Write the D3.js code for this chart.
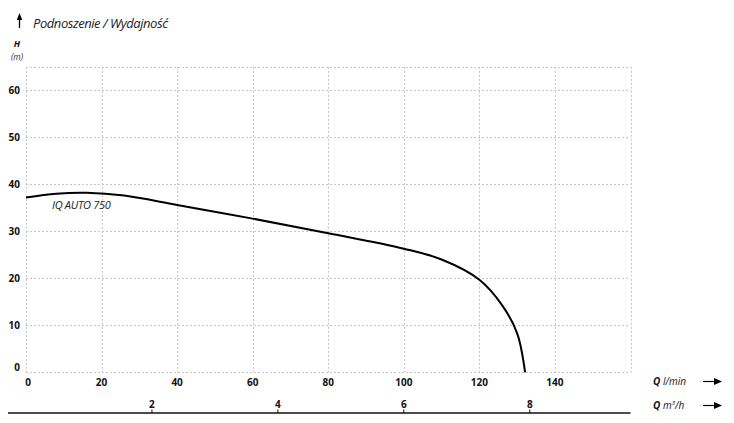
<!DOCTYPE html>
<html><head><meta charset="utf-8">
<script src="https://cdn.jsdelivr.net/npm/d3@7"></script>
<style>body{margin:0;background:#fff}svg{display:block}</style>
</head><body>
<svg id="c" width="734" height="423"></svg>
<script>
const flowLmin = [0, 8, 16, 26, 40, 60, 80, 100, 110, 120, 126, 130, 132.1];
const headM    = [37.2, 38, 38.2, 37.6, 35.6, 32.7, 29.6, 26.3, 24, 19.7, 14.3, 8.3, 0];
const xTicks = [0, 20, 40, 60, 80, 100, 120, 140];
const xGrid = [0, 20, 40, 60, 80, 100, 120, 140, 160];
const yTicks = [0, 10, 20, 30, 40, 50, 60];
const yGrid = [0, 10, 20, 30, 40, 50, 60, 65];
const m3hTicks = [2, 4, 6, 8];
const seriesName = "IQ AUTO 750";

const svg = d3.select("#c");
const font = "'Open Sans', sans-serif";
const x = d3.scaleLinear().domain([0, 160]).range([26, 630.5]);
const y = d3.scaleLinear().domain([0, 65]).range([372.3, 66.8]);
const xm3 = d3.scaleLinear().domain([0, 9.6]).range([x(0), x(160)]);

// grid
const g = svg.append("g").attr("stroke", "#c8c8c8").attr("stroke-width", 1).attr("stroke-dasharray", "2,2");
g.selectAll("line.v").data(xGrid).join("line")
  .attr("x1", d => Math.round(x(d)) + 0.5).attr("x2", d => Math.round(x(d)) + 0.5)
  .attr("y1", y(65)).attr("y2", y(0));
g.selectAll("line.h").data(yGrid).join("line")
  .attr("y1", d => Math.round(y(d)) + 0.5).attr("y2", d => Math.round(y(d)) + 0.5)
  .attr("x1", x(0)).attr("x2", x(160));

// y tick labels
svg.append("g").selectAll("text").data(yTicks).join("text")
  .attr("x", 20).attr("y", d => y(d) + (d === 0 ? -1 : 3.5))
  .attr("text-anchor", "end").attr("font-family", font).attr("font-weight", "bold")
  .attr("font-size", 10).attr("fill", "#111").text(d => d);

// x tick labels
svg.append("g").selectAll("text").data(xTicks).join("text")
  .attr("x", d => x(d) + (d === 0 ? 2 : 0)).attr("y", 386)
  .attr("text-anchor", "middle").attr("font-family", font).attr("font-weight", "bold")
  .attr("font-size", 10).attr("fill", "#111").text(d => d);

// second axis m3/h
svg.append("line").attr("x1", 8).attr("x2", 630.5).attr("y1", 413).attr("y2", 413)
  .attr("stroke", "#111").attr("stroke-width", 1.3);
const a2 = svg.append("g");
a2.selectAll("line").data(m3hTicks).join("line")
  .attr("x1", d => xm3(d)).attr("x2", d => xm3(d)).attr("y1", 409.5).attr("y2", 413)
  .attr("stroke", "#111").attr("stroke-width", 1);
a2.selectAll("text").data(m3hTicks).join("text")
  .attr("x", d => xm3(d)).attr("y", 408)
  .attr("text-anchor", "middle").attr("font-family", font).attr("font-weight", "bold")
  .attr("font-size", 10).attr("fill", "#111").text(d => d);

// curve
const pts = flowLmin.map((q, i) => [q, headM[i]]);
svg.append("path").datum(pts)
  .attr("d", d3.line().x(d => x(d[0])).y(d => y(d[1])).curve(d3.curveCatmullRom.alpha(0.5)))
  .attr("fill", "none").attr("stroke", "#000").attr("stroke-width", 2);

svg.append("text").attr("x", 52).attr("y", 209).attr("font-family", font)
  .attr("font-style", "italic").attr("font-size", 11).attr("fill", "#222").attr("letter-spacing", -0.3)
  .text(seriesName);

// title
svg.append("line").attr("x1", 19.5).attr("x2", 19.5).attr("y1", 28).attr("y2", 18).attr("stroke", "#000").attr("stroke-width", 1.3);
svg.append("path").attr("d", "M19.5,13 L16.8,20 L22.2,20 Z").attr("fill", "#000");
svg.append("text").attr("x", 33).attr("y", 28).attr("font-family", font).attr("font-style", "italic")
  .attr("font-size", 13).attr("letter-spacing", -0.45).attr("fill", "#222").text("Podnoszenie / Wydajność");
svg.append("text").attr("x", 17).attr("y", 47).attr("text-anchor", "middle").attr("font-family", font)
  .attr("font-style", "italic").attr("font-weight", "bold").attr("font-size", 9).attr("fill", "#111").text("H");
svg.append("text").attr("x", 17).attr("y", 60).attr("text-anchor", "middle").attr("font-family", font)
  .attr("font-style", "italic").attr("font-size", 8.5).attr("fill", "#333").text("(m)");

// right labels
function qLabel(yy, unitNodes) {
  const t = svg.append("text").attr("x", 653).attr("y", yy).attr("font-family", font)
    .attr("font-style", "italic").attr("font-size", 10).attr("fill", "#111");
  t.append("tspan").attr("font-weight", "bold").text("Q ");
  unitNodes(t);
  svg.append("line").attr("x1", 703).attr("x2", 716).attr("y1", yy - 3.5).attr("y2", yy - 3.5).attr("stroke", "#000").attr("stroke-width", 1.2);
  svg.append("path").attr("d", `M722,${yy - 3.5} L714,${yy - 7} L714,${yy}Z`).attr("fill", "#000");
}
qLabel(385, t => t.append("tspan").text("l/min"));
qLabel(409, t => { t.append("tspan").text("m"); t.append("tspan").attr("font-size", 6).attr("dy", -4).text("3"); t.append("tspan").attr("dy", 4).text("/h"); });
</script>
</body></html>
